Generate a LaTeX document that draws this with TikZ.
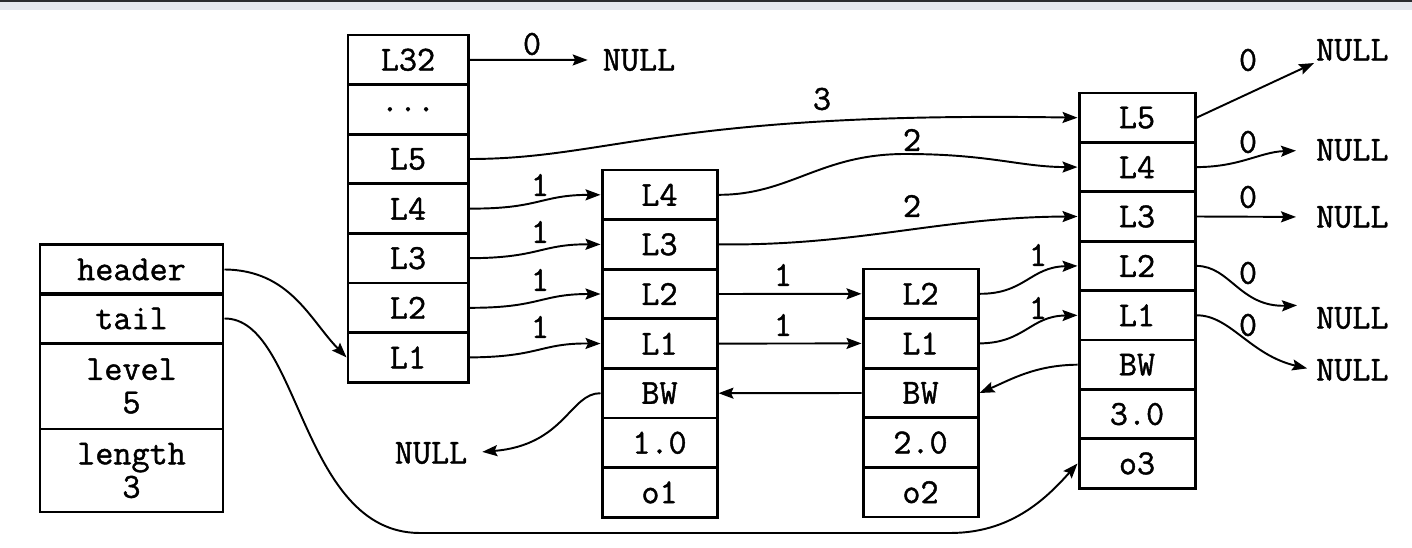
\documentclass[tikz,border=0pt]{standalone}
\usepackage{fontspec}
\usepackage{xcolor}
\usepackage{tikz}
\usetikzlibrary{arrows.meta}
\definecolor{SLBand}{HTML}{E4E8EF}
\definecolor{SLEdge}{HTML}{2A2C30}
\newfontfamily\slfont[FakeBold=1.2]{Latin Modern Mono}

\begin{document}
\begin{tikzpicture}[x=0.2mm,y=-0.2mm,
  every node/.style={font=\slfont\bfseries\fontsize{20}{19}\selectfont},
  cell/.style={draw,line width=1.7pt,minimum width=23mm,minimum height=9.92mm,inner sep=0pt},
  ptr/.style={line width=1.1pt,-{Stealth[length=3mm,width=2.2mm,inset=0.5mm]}},
  wt/.style={inner sep=1pt},
  nulltxt/.style={inner sep=1pt}]
\path[use as bounding box] (0,0) rectangle (1412,548);
\fill[SLBand] (0,0) rectangle (1412,10);
\fill[SLEdge] (0,0) rectangle (1412,2);
\node[cell,minimum width=36.6mm] (lst-hd) at (131.5,269.5) {header};
\node[cell,minimum width=36.6mm] (lst-tl) at (131.5,318.5) {tail};
\node[cell,minimum width=36.6mm,minimum height=17.2mm,align=center] (lst-lv) at (131.5,386) {level\\5};
\node[cell,minimum width=36.6mm,minimum height=16.6mm,align=center] (lst-ln) at (131.5,470.5) {length\\3};
\node[cell,minimum width=24mm] (hd-32) at (408,59.8) {L32};
\node[cell,minimum width=24mm] (hd-dots) at (408,109.4) {...};
\node[cell,minimum width=24mm] (hd-5) at (408,159) {L5};
\node[cell,minimum width=24mm] (hd-4) at (408,208.6) {L4};
\node[cell,minimum width=24mm] (hd-3) at (408,258.2) {L3};
\node[cell,minimum width=24mm] (hd-2) at (408,307.8) {L2};
\node[cell,minimum width=24mm] (hd-1) at (408,357.4) {L1};
\node[cell] (n1-4) at (659.5,194.8) {L4};
\node[cell] (n1-3) at (659.5,244.4) {L3};
\node[cell] (n1-2) at (659.5,294) {L2};
\node[cell] (n1-1) at (659.5,343.6) {L1};
\node[cell] (n1-bw) at (659.5,393.2) {BW};
\node[cell] (n1-sc) at (659.5,442.8) {1.0};
\node[cell] (n1-obj) at (659.5,492.4) {o1};
\node[cell] (n2-2) at (920.5,293.8) {L2};
\node[cell] (n2-1) at (920.5,343.4) {L1};
\node[cell] (n2-bw) at (920.5,393) {BW};
\node[cell] (n2-sc) at (920.5,442.6) {2.0};
\node[cell] (n2-obj) at (920.5,492.2) {o2};
\node[cell,minimum width=23.2mm,minimum height=9.88mm] (n3-5) at (1137,117.7) {L5};
\node[cell,minimum width=23.2mm,minimum height=9.88mm] (n3-4) at (1137,167.1) {L4};
\node[cell,minimum width=23.2mm,minimum height=9.88mm] (n3-3) at (1137,216.5) {L3};
\node[cell,minimum width=23.2mm,minimum height=9.88mm] (n3-2) at (1137,265.9) {L2};
\node[cell,minimum width=23.2mm,minimum height=9.88mm] (n3-1) at (1137,315.3) {L1};
\node[cell,minimum width=23.2mm,minimum height=9.88mm] (n3-bw) at (1137,364.7) {BW};
\node[cell,minimum width=23.2mm,minimum height=9.88mm] (n3-sc) at (1137,414.1) {3.0};
\node[cell,minimum width=23.2mm,minimum height=9.88mm] (n3-obj) at (1137,463.5) {o3};
\node[nulltxt] (nul-32) at (639,60) {NULL};
\node[nulltxt] (nul-bw) at (431,453) {NULL};
\node[nulltxt,anchor=west] (nul-5) at (1314,50) {NULL};
\node[nulltxt,anchor=west] (nul-4) at (1314,150) {NULL};
\node[nulltxt,anchor=west] (nul-3) at (1314,217) {NULL};
\node[nulltxt,anchor=west] (nul-2) at (1314,318) {NULL};
\node[nulltxt,anchor=west] (nul-1) at (1314,370) {NULL};
\draw[ptr,shorten >=2.6mm] (hd-32.east) -- (nul-32.west);
\draw[ptr] (hd-5.east) .. controls (610,159) and (670,111) .. (n3-5.west);
\draw[ptr] (hd-4.east) .. controls (540,209) and (540,195) .. (n1-4.west);
\draw[ptr] (hd-3.east) .. controls (540,258) and (540,244) .. (n1-3.west);
\draw[ptr] (hd-2.east) .. controls (540,308) and (540,294) .. (n1-2.west);
\draw[ptr] (hd-1.east) .. controls (540,357) and (540,343) .. (n1-1.west);
\draw[ptr] (n1-4.east) .. controls (790,195) and (820,154) .. (905,154) .. controls (990,154) and (1020,167) .. (n3-4.west);
\draw[ptr] (n1-3.east) .. controls (860,246) and (940,217) .. (n3-3.west);
\draw[ptr] (n1-2.east) -- (n2-2.west);
\draw[ptr] (n1-1.east) -- (n2-1.west);
\draw[ptr] (n2-bw.west) -- (n1-bw.east);
\draw[ptr] (n3-bw.west) .. controls (1035,365) and (1010,380) .. (n2-bw.east);
\draw[ptr] (n2-2.east) .. controls (1025,294) and (1030,267) .. (n3-2.west);
\draw[ptr] (n2-1.east) .. controls (1025,343) and (1030,316) .. (n3-1.west);
\draw[ptr,shorten >=2.6mm] (n1-bw.west) .. controls (570,393) and (565,445) .. (nul-bw.east);
\draw[ptr] (lst-hd.east) .. controls (290,270) and (310,320) .. (hd-1.west);
\draw[ptr] (lst-tl.east) .. controls (300,318) and (300,533) .. (420,533) -- (950,533) .. controls (1010,533) and (1045,500) .. (n3-obj.west);
\draw[ptr] (n3-5.east) -- (nul-5.south west);
\draw[ptr,shorten >=3.6mm] (n3-4.east) .. controls (1240,167) and (1260,152) .. (nul-4.west);
\draw[ptr,shorten >=3.6mm] (n3-3.east) -- (nul-3.west);
\draw[ptr,shorten >=3.4mm] (n3-2.east) .. controls (1230,266) and (1240,307) .. (nul-2.north west);
\draw[ptr,shorten >=1.4mm] (n3-1.east) .. controls (1230,315) and (1250,355) .. (nul-1.west);
\node[wt] (wt-hd32) at (532,44) {0};
\node[wt] (wt-hd5) at (822,99) {3};
\node[wt] (wt-n14) at (912,140) {2};
\node[wt] (wt-n13) at (912,206) {2};
\node[wt] (wt-hd4) at (540,185) {1};
\node[wt] (wt-hd3) at (540,232) {1};
\node[wt] (wt-hd2) at (540,280) {1};
\node[wt] (wt-hd1) at (540,327) {1};
\node[wt] (wt-n12) at (783,275) {1};
\node[wt] (wt-n11) at (783,325) {1};
\node[wt] (wt-n22) at (1038,255) {1};
\node[wt] (wt-n21) at (1038,308) {1};
\node[wt] (wt-n35) at (1248,60) {0};
\node[wt] (wt-n34) at (1248,142) {0};
\node[wt] (wt-n33) at (1248,197) {0};
\node[wt] (wt-n32) at (1248,273) {0};
\node[wt] (wt-n31) at (1248,325) {0};
\end{tikzpicture}
\end{document}
